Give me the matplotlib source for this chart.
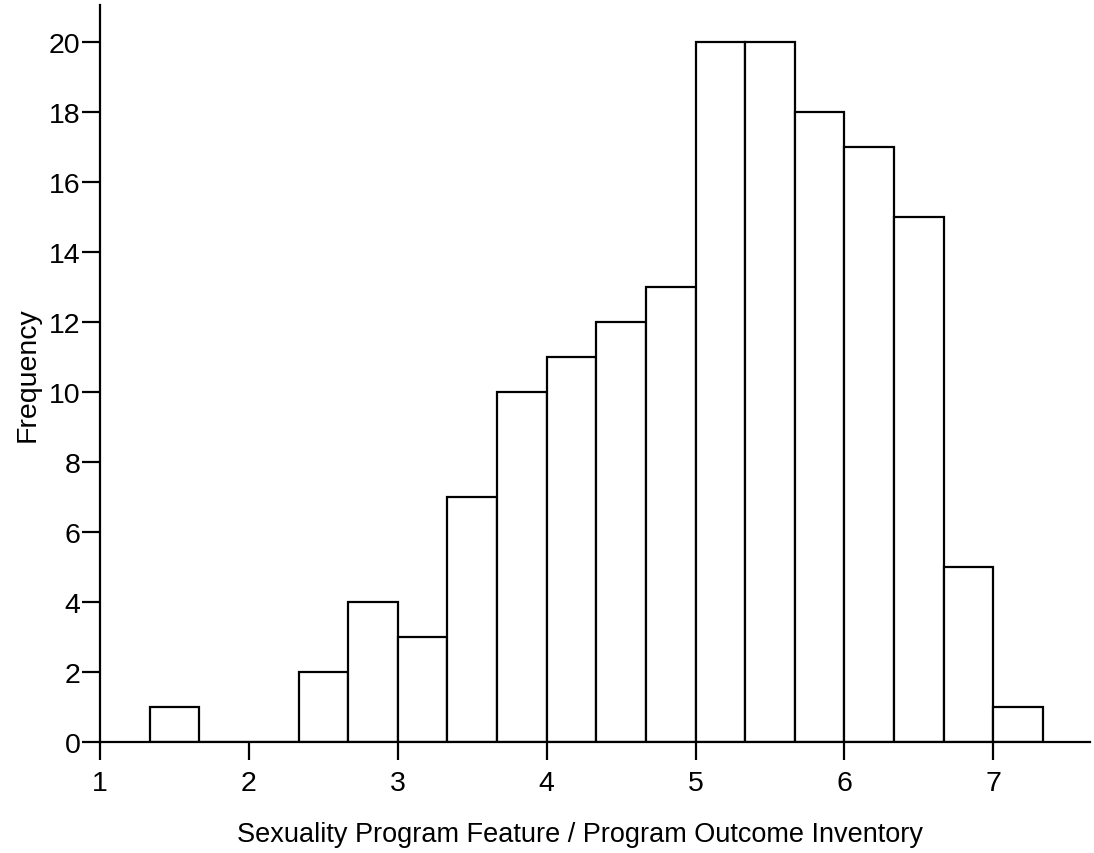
import matplotlib
matplotlib.use("Agg")
import matplotlib.pyplot as plt
import numpy as np

# histogram bins (width 1/3) and counts
bin_start = 4 / 3
bin_width = 1 / 3
counts = [1, 0, 0, 2, 4, 3, 7, 10, 11, 12, 13, 20, 20, 18, 17, 15, 5, 1]
x_ticks = [1, 2, 3, 4, 5, 6, 7]
y_ticks = [0, 2, 4, 6, 8, 10, 12, 14, 16, 18, 20]

plt.rcParams["font.family"] = ["Liberation Sans", "DejaVu Sans"]

fig = plt.figure(figsize=(10.94, 8.54), dpi=100)
ax = fig.add_axes([0.0914, 0.13, 0.905, 0.863])

lefts = bin_start + bin_width * np.arange(len(counts))
ax.bar(lefts, counts, width=bin_width, align="edge",
       facecolor="white", edgecolor="black", linewidth=1.6)

ax.set_xlim(1, 7.65)
ax.set_ylim(0, 21.06)
ax.set_xticks(x_ticks)
ax.set_yticks(y_ticks)
ax.tick_params(axis="both", direction="out", length=13, width=1.6,
               labelsize=20.5, colors="black")
ax.tick_params(axis="x", pad=7)
ax.tick_params(axis="y", pad=1)
for side in ("top", "right"):
    ax.spines[side].set_visible(False)
for side in ("left", "bottom"):
    ax.spines[side].set_linewidth(1.6)

ax.set_xlabel("Sexuality Program Feature / Program Outcome Inventory",
              fontsize=19.5, labelpad=0)
ax.xaxis.set_label_coords(0.485, -0.107)
ax.set_ylabel("Frequency", fontsize=20.5, labelpad=6)

fig.savefig("out.png", dpi=100)
